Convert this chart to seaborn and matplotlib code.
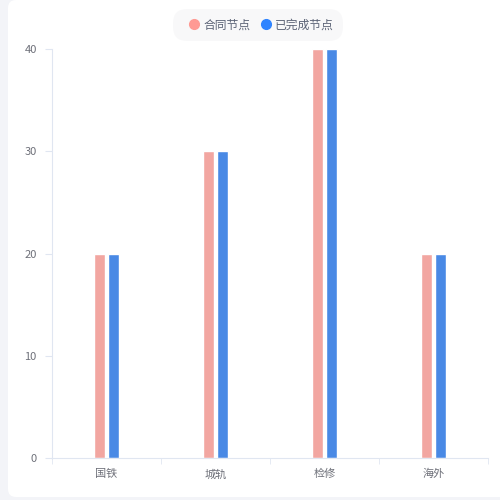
import pandas as pd
import seaborn as sns
import matplotlib.pyplot as plt
from matplotlib.patches import FancyBboxPatch
from matplotlib.lines import Line2D

categories = ['国铁', '城轨', '检修', '海外']
contract_nodes = [20, 30, 40, 20]
done_nodes = [20, 30, 40, 20]
series_names = ['合同节点', '已完成节点']
colors = ['#ff9a94', '#2f84ff']

df = pd.DataFrame({
    'cat': categories * 2,
    'val': contract_nodes + done_nodes,
    'series': [series_names[0]] * 4 + [series_names[1]] * 4,
})

sns.set_style('white')
plt.rcParams['font.family'] = ['Noto Sans CJK SC', 'DejaVu Sans']

fig = plt.figure(figsize=(5, 5), dpi=100, facecolor='#f3f4f8')

# white card behind the chart
bg = fig.add_axes([0, 0, 1, 1], zorder=-1)
bg.axis('off')
bg.set_xlim(0, 1)
bg.set_ylim(0, 1)
bg.add_patch(FancyBboxPatch((0.016, 0.006), 1.0, 0.994, boxstyle='round,pad=0,rounding_size=0.016',
                            facecolor='white', edgecolor='none'))

ax = fig.add_axes([0.104, 0.084, 0.872, 0.818])
ax.set_facecolor('none')
sns.barplot(data=df, x='cat', y='val', hue='series', palette=colors,
            width=0.25, gap=0.15, ax=ax)

ax.set_ylim(0, 40)
ax.set_xlim(-0.5, 3.5)
ax.set_yticks([0, 10, 20, 30, 40])
ax.set_xlabel('')
ax.set_ylabel('')
for s in ['top', 'right']:
    ax.spines[s].set_visible(False)
for s in ['left', 'bottom']:
    ax.spines[s].set_color('#e0e6f1')
ax.tick_params(axis='y', colors='#e0e6f1', labelcolor='#6e7079', labelsize=8, length=5, pad=6, left=True)
ax.set_xticks([-0.5, 0.5, 1.5, 2.5, 3.5], minor=True)
ax.tick_params(axis='x', which='major', length=0, labelcolor='#6e7079', labelsize=8, pad=8)
ax.tick_params(axis='x', which='minor', length=4, color='#e0e6f1', bottom=True)
ax.get_legend().remove()

hs = [Line2D([], [], marker='o', ls='', markersize=7, color=c) for c in colors]
leg = fig.legend(hs, series_names, loc='center', bbox_to_anchor=(0.516, 0.95), ncol=2,
                 frameon=True, facecolor='#f7f7f8', edgecolor='none', fancybox=True,
                 fontsize=8.5, handletextpad=-0.2, columnspacing=0.3, borderpad=0.6)
leg.get_frame().set_boxstyle('round', pad=0.2, rounding_size=1.2)
for t in leg.get_texts():
    t.set_color('#5a6275')

fig.savefig('out.png', dpi=100, facecolor=fig.get_facecolor())
